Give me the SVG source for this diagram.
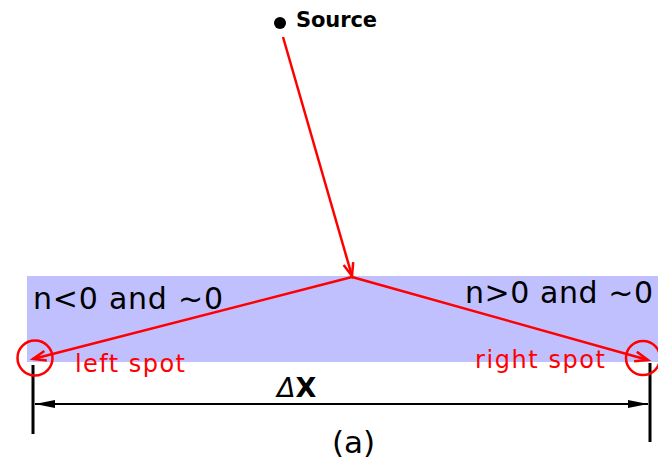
<svg xmlns="http://www.w3.org/2000/svg" width="658" height="463" viewBox="0 0 658 463">
<defs>
<style>
.red{stroke:#ff0000;stroke-width:2.5;fill:none}
.blk{stroke:#000;stroke-width:3;fill:none}
.t{font-family:"DejaVu Sans","Liberation Sans",sans-serif}
</style>
<marker id="ra" markerUnits="userSpaceOnUse" markerWidth="20" markerHeight="16" refX="15" refY="7" orient="auto" viewBox="0 0 20 14">
<path d="M2,2 L15,7 L2,12" fill="none" stroke="#ff0000" stroke-width="2.5"/>
</marker>
<marker id="ba" markerUnits="userSpaceOnUse" markerWidth="22" markerHeight="12" refX="20" refY="6" orient="auto-start-reverse" viewBox="0 0 22 12">
<path d="M0,2 L20,6 L0,10 Z" fill="#000"/>
</marker>
</defs>
<rect id="medium" x="27" y="276" width="640" height="86" fill="#c0c0ff"/>
<g id="source">
<circle cx="280" cy="23" r="6" fill="#000"/>
<text class="t" x="296" y="27" font-size="21" font-weight="bold" textLength="81">Source</text>
</g>
<g id="connectors">
<line class="red" x1="283" y1="37" x2="352" y2="276" marker-end="url(#ra)"/>
<line class="red" x1="352" y1="277" x2="33" y2="359" marker-end="url(#ra)"/>
<line class="red" x1="352" y1="277" x2="648" y2="360" marker-end="url(#ra)"/>
<line class="blk" x1="33" y1="365" x2="33" y2="434"/>
<line class="blk" x1="650" y1="363" x2="650" y2="442"/>
<line x1="35" y1="404" x2="648" y2="404" stroke="#000" stroke-width="2" marker-start="url(#ba)" marker-end="url(#ba)"/>
</g>
<g id="left-spot">
<circle class="red" cx="35" cy="358" r="17.5"/>
<text class="t" x="75" y="372" font-size="24" fill="#ff0000" textLength="110">left spot</text>
</g>
<g id="right-spot">
<circle class="red" cx="643" cy="358" r="17"/>
<text class="t" x="475" y="368" font-size="24" fill="#ff0000" textLength="130">right spot</text>
</g>
<text class="t" x="33" y="309" font-size="30" textLength="190">n&lt;0 and ~0</text>
<text class="t" x="465" y="303" font-size="30" textLength="188">n&gt;0 and ~0</text>
<text class="t" x="277" y="397" font-size="27"><tspan font-style="italic">Δ</tspan><tspan font-weight="bold">X</tspan></text>
<text class="t" x="332" y="453" font-size="31">(a)</text>
</svg>
